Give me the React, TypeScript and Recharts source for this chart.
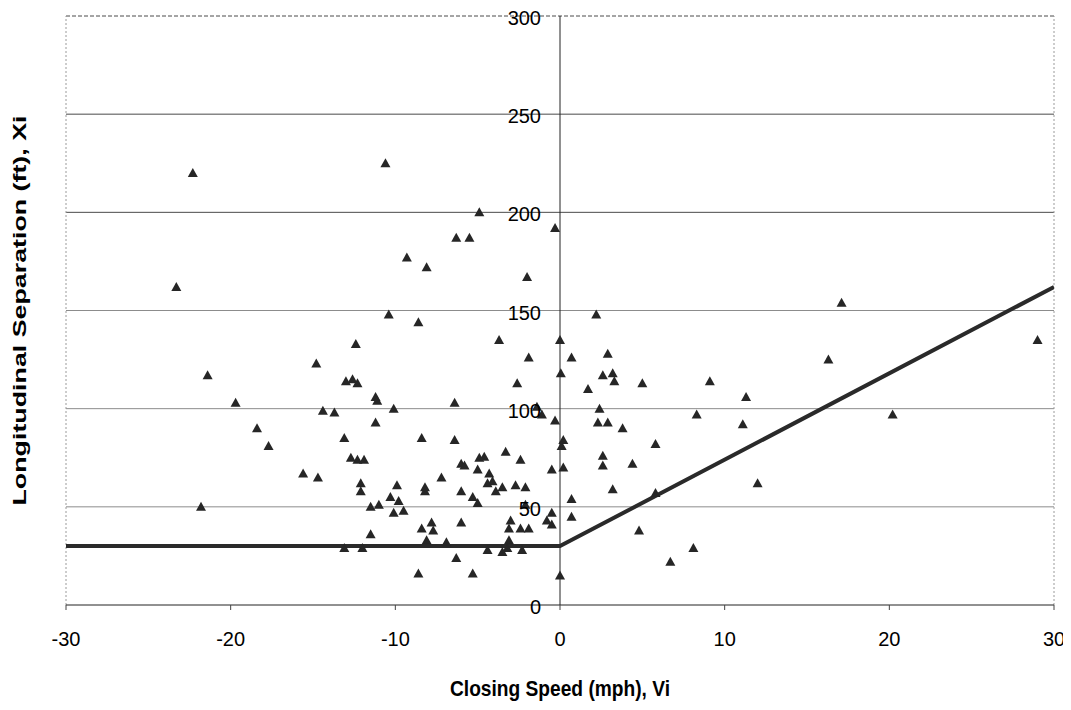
import React from 'react';
import {
  ScatterChart,
  Scatter,
  XAxis,
  YAxis,
  ReferenceLine,
  ReferenceDot,
  Label,
} from 'recharts';

// Closing speed (mph), Vi
const closingSpeed: number[] = [
  -22.3, -10.6, -4.9, -6.3, -5.5, -9.3, -8.1, -0.3, -2.0, -23.3,
  -10.4, -8.6, -12.4, -14.8, -21.4, -13.0, -12.6, -12.3, -11.2, -11.1,
  -19.7, -14.4, -13.7, -10.1, -11.2, -18.4, -17.7, -13.1, -8.4, -6.4,
  -6.4, -3.7, -1.9, -2.6, -1.4, -1.1, -0.3, -12.7, -12.3, -11.9,
  -15.6, -14.7, -12.1, -12.1, -9.9, -10.3, -9.8, -11.5, -11.0, -10.1,
  -9.5, -11.5, -13.1, -12.0, -21.8, -8.2, -8.2, -7.2, -6.0, -5.8,
  -6.0, -5.3, -5.0, -6.0, -8.4, -7.8, -7.7, -8.1, -6.9, -6.3,
  -8.6, -5.3, -4.9, -4.6, -5.0, -4.3, -4.1, -4.4, -3.9, -3.5,
  -3.3, -2.7, -2.4, -2.1, -0.5, -3.0, -3.1, -2.4, -1.9, -0.5,
  -0.8, -0.5, -3.1, -3.2, -3.5, -4.4, -2.3, 0.0, 0.0, 0.05,
  2.2, 0.7, 2.9, 2.6, 3.2, 3.3, 1.7, 5.0, 9.1, 11.3,
  16.3, 17.1, 29.0, 20.2, 8.3, 11.1, 2.4, 2.3, 2.9, 3.8,
  0.2, 0.1, 5.8, 2.6, 2.6, 4.4, 0.2, 3.2, 5.8, 12.0,
  0.7, 0.7, 4.8, 8.1, 6.7, -2.1,
];

// Longitudinal separation (ft), Xi
const separation: number[] = [
  220, 225, 200, 187, 187, 177, 172, 192, 167, 162,
  148, 144, 133, 123, 117, 114, 115, 113, 106, 104,
  103, 99, 98, 100, 93, 90, 81, 85, 85, 103,
  84, 135, 126, 113, 101, 97, 94, 75, 74, 74,
  67, 65, 62, 58, 61, 55, 53, 50, 51, 47,
  48, 36, 29, 29, 50, 58, 60, 65, 72, 71,
  58, 55, 52, 42, 39, 42, 38, 33, 32, 24,
  16, 16, 75, 75.5, 69, 67, 63, 62, 58, 60,
  78, 61, 74, 60, 69, 43, 39, 39, 39, 47,
  43, 41, 33, 29, 27, 28, 28, 15, 135, 118,
  148, 126, 128, 117, 118, 114, 110, 113, 114, 106,
  125, 154, 135, 97, 97, 92, 100, 93, 93, 90,
  84, 81, 82, 76, 71, 72, 70, 59, 57, 62,
  54, 45, 38, 29, 22, 51,
];

// Threshold line (speed, separation)
const lineSpeed: number[] = [-30, 0, 30];
const lineSeparation: number[] = [30, 30, 162];

const xTicks: number[] = [-30, -20, -10, 0, 10, 20, 30];
const yTicks: number[] = [0, 50, 100, 150, 200, 250, 300];

const points = closingSpeed.map((x, i) => ({ x, y: separation[i] }));
const lineData = lineSpeed.map((x, i) => ({ x, y: lineSeparation[i] }));

const FONT = '"Liberation Sans", Arial, sans-serif';

const Triangle = (props: any) => {
  const { cx, cy } = props;
  if (cx == null || cy == null) return <g />;
  return (
    <polygon
      points={`${cx},${cy - 5} ${cx - 5},${cy + 4} ${cx + 5},${cy + 4}`}
      fill="#262626"
    />
  );
};

const NoShape = () => <g />;

const YTitle = (props: any) => {
  const vb = props.viewBox || { x: 0, y: 0, width: 0, height: 0 };
  const cx = vb.x + 11;
  const cy = vb.y + vb.height / 2;
  return (
    <text
      x={cx}
      y={cy}
      transform={`rotate(-90 ${cx} ${cy})`}
      textAnchor="middle"
      dominantBaseline="central"
      textLength={390}
      lengthAdjust="spacingAndGlyphs"
      style={{ fontSize: 19, fontWeight: 'bold', fill: '#000', fontFamily: FONT }}
    >
      Longitudinal Separation (ft), Xi
    </text>
  );
};

const XTitle = (props: any) => {
  const vb = props.viewBox || { x: 0, y: 0, width: 0, height: 0 };
  const cx = vb.x + vb.width / 2;
  const cy = vb.y + vb.height - 12;
  return (
    <text
      x={cx}
      y={cy}
      textAnchor="middle"
      dominantBaseline="central"
      textLength={220}
      lengthAdjust="spacingAndGlyphs"
      style={{ fontSize: 22, fontWeight: 'bold', fill: '#000', fontFamily: FONT }}
    >
      Closing Speed (mph), Vi
    </text>
  );
};

export default function App() {
  return (
    <div style={{ fontFamily: FONT }}>
      <ScatterChart
        width={1063}
        height={702}
        margin={{ top: 8, right: 17, bottom: 10, left: 0 }}
      >
        <XAxis
          type="number"
          dataKey="x"
          domain={[-30, 30]}
          ticks={xTicks}
          interval={0}
          allowDataOverflow
          height={95}
          tickSize={5}
          tickMargin={22}
          axisLine={{ stroke: '#222', strokeWidth: 1 }}
          tickLine={{ stroke: '#444' }}
          tick={{ fill: '#000', fontSize: 20, fontFamily: FONT }}
        >
          <Label content={XTitle} />
        </XAxis>
        <YAxis
          type="number"
          dataKey="y"
          domain={[0, 300]}
          ticks={yTicks}
          interval={0}
          width={58}
          tick={false}
          tickLine={false}
          axisLine={false}
        >
          <Label content={YTitle} />
        </YAxis>
        {yTicks
          .filter((v) => v > 0)
          .map((v) => (
            <ReferenceLine
              key={'g' + v}
              y={v}
              stroke={v >= 200 ? '#4a4a4a' : '#8c8c8c'}
              strokeWidth={1}
              strokeDasharray={v === 300 ? '4 2' : undefined}
            />
          ))}
        <ReferenceLine x={-30} stroke="#9a9a9a" strokeDasharray="2 2" />
        <ReferenceLine x={30} stroke="#9a9a9a" strokeDasharray="2 2" />
        <ReferenceLine x={0} stroke="#222" strokeWidth={1} />
        {yTicks.map((v) => (
          <ReferenceDot
            key={v}
            x={0}
            y={v}
            r={1}
            fill="none"
            stroke="none"
            label={{
              value: String(v),
              position: 'left',
              offset: 18,
              dy: 2,
              style: { fontSize: 20, fill: '#000', fontFamily: FONT },
            }}
          />
        ))}
        <Scatter
          data={lineData}
          line={{ stroke: '#2a2a2a', strokeWidth: 4 }}
          lineJointType="linear"
          shape={NoShape}
          isAnimationActive={false}
        />
        <Scatter data={points} shape={Triangle} isAnimationActive={false} />
      </ScatterChart>
    </div>
  );
}
